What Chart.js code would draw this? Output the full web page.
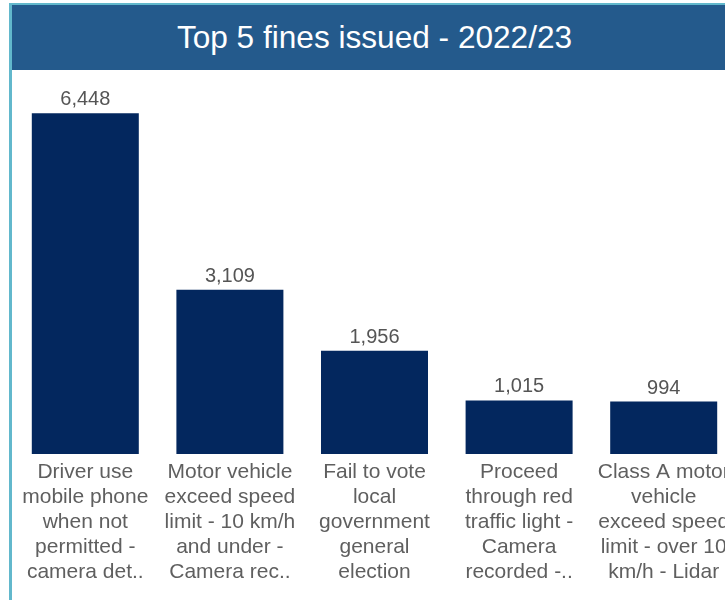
<!DOCTYPE html>
<html>
<head>
<meta charset="utf-8">
<script src="https://cdn.jsdelivr.net/npm/chart.js@4/dist/chart.umd.min.js"></script>
<style>
  html, body { margin: 0; padding: 0; background: #fff; overflow: hidden; width: 725px; height: 600px; }
  #frame { position: absolute; left: 9px; top: 3px; width: 800px; height: 620px;
           border-left: 3px solid #62b8cc; border-top: 2px solid #62b8cc; }
  #title { position: absolute; left: 12px; top: 5px; width: 725px; height: 65px;
           background: #245a8c; color: #fff; font-family: "Liberation Sans", Arial, sans-serif;
           font-size: 31.6px; line-height: 65px; text-align: center; }
  #wrap { position: absolute; left: 0; top: 70px; width: 761px; height: 530px; }
</style>
</head>
<body>
<div id="frame"></div>
<div id="title">Top 5 fines issued - 2022/23</div>
<div id="wrap"><canvas id="c"></canvas></div>
<script>
const categories = [
  ["Driver use", "mobile phone", "when not", "permitted -", "camera det.."],
  ["Motor vehicle", "exceed speed", "limit - 10 km/h", "and under -", "Camera rec.."],
  ["Fail to vote", "local", "government", "general", "election"],
  ["Proceed", "through red", "traffic light -", "Camera", "recorded -.."],
  ["Class A motor", "vehicle", "exceed speed", "limit - over 10", "km/h - Lidar"]
];
const finesIssued = [6448, 3109, 1956, 1015, 994];

const valueLabels = {
  id: 'valueLabels',
  afterDatasetsDraw(chart) {
    const ctx = chart.ctx;
    const meta = chart.getDatasetMeta(0);
    ctx.save();
    ctx.font = '20px "Liberation Sans", Arial, sans-serif';
    ctx.fillStyle = '#555555';
    ctx.textAlign = 'center';
    ctx.textBaseline = 'alphabetic';
    meta.data.forEach((bar, i) => {
      ctx.fillText(finesIssued[i].toLocaleString('en-US'), bar.x, bar.y - 8);
    });
    ctx.restore();
  }
};

new Chart(document.getElementById('c'), {
  type: 'bar',
  data: {
    labels: categories,
    datasets: [{
      data: finesIssued,
      backgroundColor: '#03275e',
      borderWidth: 0,
      barPercentage: 0.74,
      categoryPercentage: 1.0
    }]
  },
  options: {
    responsive: true,
    maintainAspectRatio: false,
    animation: false,
    layout: { padding: { left: 13, right: 25, top: 14, bottom: 9 } },
    plugins: { legend: { display: false }, tooltip: { enabled: false } },
    scales: {
      x: {
        grid: { display: false, drawTicks: false },
        border: { display: false },
        ticks: {
          maxRotation: 0, minRotation: 0, autoSkip: false, padding: 6,
          color: '#5f5f5f',
          font: { family: '"Liberation Sans", Arial, sans-serif', size: 21, lineHeight: 1.19 }
        }
      },
      y: {
        display: false,
        min: 0, max: 7000
      }
    }
  },
  plugins: [valueLabels]
});
</script>
</body>
</html>
